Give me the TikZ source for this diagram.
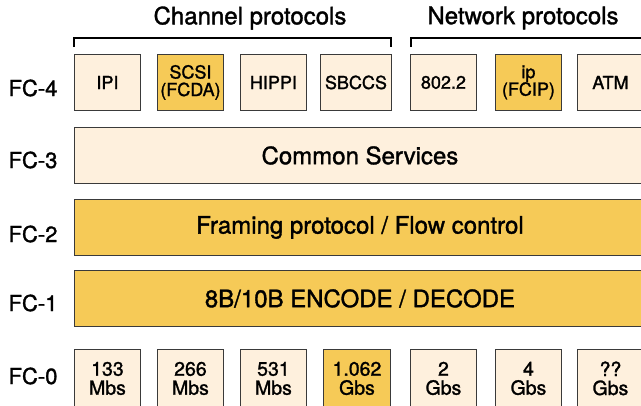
\documentclass[tikz,border=0pt]{standalone}
\usepackage{fontspec}
\setmainfont{TeX Gyre Heros}[FakeBold=1.4]
\definecolor{cream}{HTML}{FEF0DD}
\definecolor{gold}{HTML}{F6CA57}
\definecolor{edge}{HTML}{3A3A3A}
\begin{document}
\begin{tikzpicture}[x=1pt,y=-1pt,
  base/.style={draw=edge, line width=0.9pt, anchor=north west, inner sep=0pt, align=center},
  pbox/.style={base, fill=cream, minimum width=66pt, minimum height=56pt, font=\fontsize{18}{17.5}\selectfont},
  gbox/.style={pbox, fill=gold},
  sbox/.style={base, fill=cream, minimum width=66pt, minimum height=58pt, font=\fontsize{19.5}{19}\selectfont},
  sgbox/.style={sbox, fill=gold},
  bar/.style={base, minimum width=571pt, minimum height=56pt, font=\fontsize{24}{24}\selectfont},
  lbl/.style={font=\fontsize{22}{22}\selectfont, inner sep=0pt},
  head/.style={font=\fontsize{24}{24}\selectfont, inner sep=0pt},
  brk/.style={line width=2pt}]
\useasboundingbox (0,0) rectangle (641,405);
\clip (0,0) rectangle (641,405);
\fill[white] (0,0) rectangle (641,405);
% headings
\node[head] (ch) at (250,18) {Channel protocols};
\node[head] (nw) at (523,18) {Network protocols};
\draw[brk] (74,47) -- (74,38) -- (391,38) -- (391,47);
\draw[brk] (411,47) -- (411,38) -- (645,38);
% FC-4
\node[lbl] (l4) at (33,88) {FC-4};
\node[pbox] (ipi) at (74,54) {IPI};
\node[gbox] (scsi) at (157,54) {SCSI\\(FCDA)};
\node[pbox] (hippi) at (240,54) {HIPPI};
\node[pbox, minimum width=71pt] (sbccs) at (320,54) {SBCCS};
\node[pbox] (e802) at (410,54) {802.2};
\node[gbox] (ip) at (495,54) {ip\\(FCIP)};
\node[pbox, minimum width=80pt] (atm) at (577,54) {\hspace*{-14pt}ATM};
% FC-3..FC-1
\node[lbl] (l3) at (33,160) {FC-3};
\node[bar, fill=cream] (fc3) at (74,127) {Common Services};
\node[lbl] (l2) at (33,234) {FC-2};
\node[bar, fill=gold] (fc2) at (74,199) {Framing protocol / Flow control};
\node[lbl] (l1) at (33,303) {FC-1};
\node[bar, fill=gold] (fc1) at (74,270) {8B/10B ENCODE / DECODE};
% FC-0
\node[lbl] (l0) at (33,376) {FC-0};
\node[sbox] (r1) at (74,349) {133\\Mbs};
\node[sbox] (r2) at (157,349) {266\\Mbs};
\node[sbox] (r3) at (240,349) {531\\Mbs};
\node[sgbox, minimum width=67pt] (r4) at (323,349) {1.062\\Gbs};
\node[sbox] (r5) at (410,349) {2\\Gbs};
\node[sbox] (r6) at (495,349) {4\\Gbs};
\node[sbox] (r7) at (577,349) {??\\Gbs};
\end{tikzpicture}
\end{document}
